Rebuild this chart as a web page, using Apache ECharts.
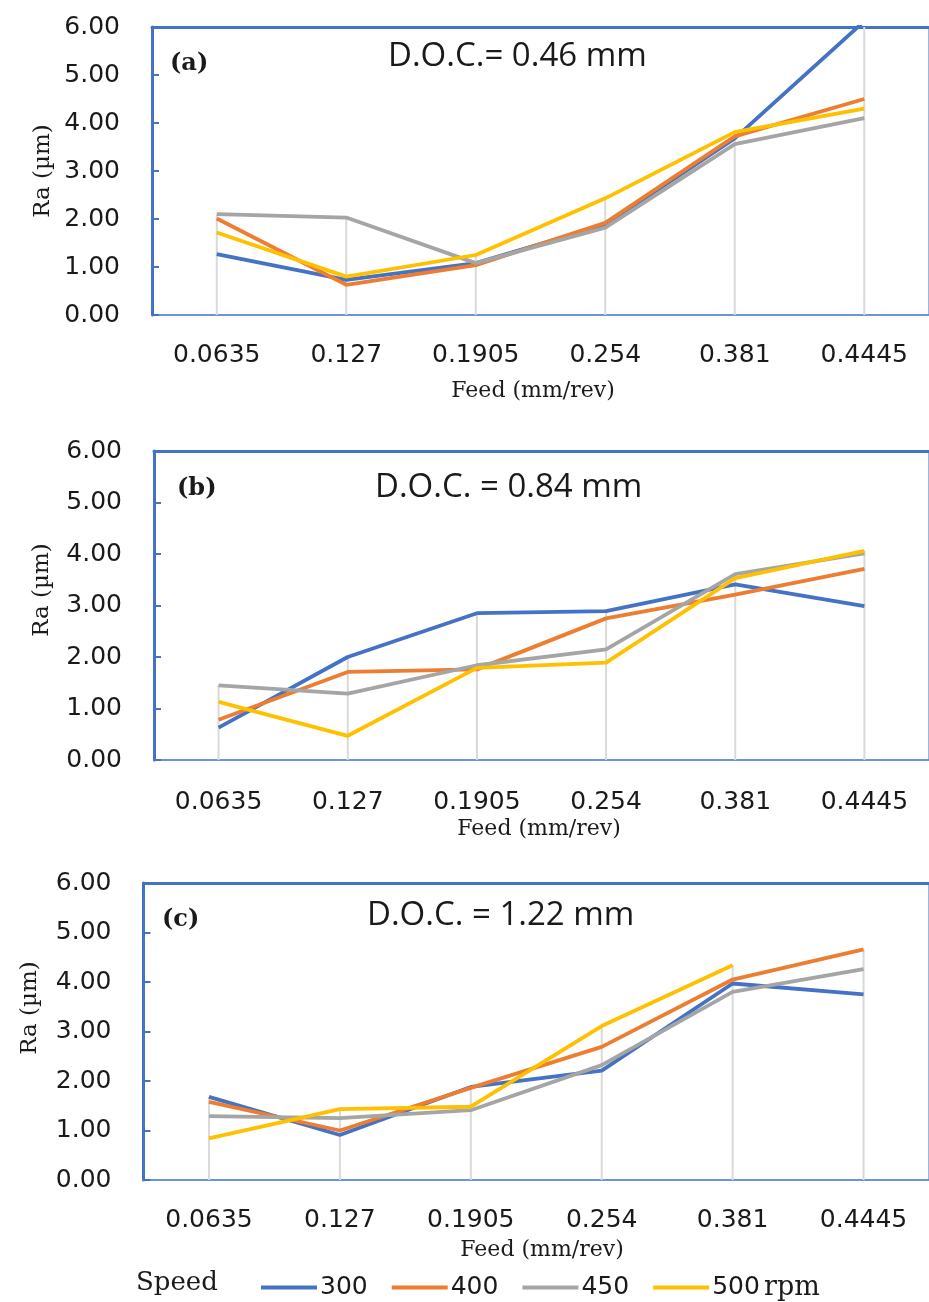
<!DOCTYPE html>
<html>
<head>
<meta charset="utf-8">
<script src="https://cdn.jsdelivr.net/npm/echarts@6/dist/echarts.min.js"></script>
<style>
  html, body { margin:0; padding:0; background:#fff; }
  #chart { width:929px; height:1302px; }
</style>
</head>
<body>
<div id="chart"></div>
<script>
// feed values on the category axis
let feeds = ['0.0635', '0.127', '0.1905', '0.254', '0.381', '0.4445'];
let yTicks = [0, 1, 2, 3, 4, 5, 6];
let speeds = ['300', '400', '450', '500'];

// (a) D.O.C. = 0.46 mm
let a300 = [1.27, 0.73, 1.08, 1.88, 3.68, 6.12];
let a400 = [2.01, 0.63, 1.04, 1.92, 3.72, 4.50];
let a450 = [2.10, 2.03, 1.08, 1.82, 3.56, 4.10];
let a500 = [1.72, 0.80, 1.25, 2.43, 3.81, 4.30];

// (b) D.O.C. = 0.84 mm
let b300 = [0.63, 2.00, 2.85, 2.89, 3.41, 2.99];
let b400 = [0.78, 1.71, 1.76, 2.75, 3.21, 3.71];
let b450 = [1.45, 1.29, 1.84, 2.15, 3.61, 4.01];
let b500 = [1.13, 0.47, 1.79, 1.89, 3.53, 4.06];

// (c) D.O.C. = 1.22 mm
let c300 = [1.68, 0.91, 1.88, 2.21, 3.97, 3.75];
let c400 = [1.58, 1.00, 1.86, 2.69, 4.05, 4.66];
let c450 = [1.29, 1.25, 1.41, 2.32, 3.80, 4.26];
let c500 = [0.84, 1.43, 1.48, 3.11, 4.34, null];

let colors = ['#4472c4', '#ed7d31', '#a5a5a5', '#ffc000'];
let blue = '#4472c4';
let tickFont = 'DejaVu Sans';
let serif = 'DejaVu Serif';
let ink = '#1a1a1a';

let panels = [
    { data:[a300, a400, a450, a500], grid:{ left:152, top:27, width:777, height:288 }, labelMargin:28,
      tag:'(a)', tagPos:[170, 64], doc:'D.O.C.= 0.46 mm', docPos:[388, 57], yName:[43, 171], xName:[533, 391] },
    { data:[b300, b400, b450, b500], grid:{ left:154, top:451, width:781, height:309 }, labelMargin:30,
      tag:'(b)', tagPos:[177, 489], doc:'D.O.C. = 0.84 mm', docPos:[375, 488], yName:[42, 590], xName:[539, 829] },
    { data:[c300, c400, c450, c500], grid:{ left:143.5, top:883, width:795, height:297 }, labelMargin:28,
      tag:'(c)', tagPos:[162, 920], doc:'D.O.C. = 1.22 mm', docPos:[367, 916], yName:[30, 1008], xName:[542, 1250] }
];

// top of the drop line at each feed = highest of the four speeds
function dropTops(sets){
    return feeds.map((f, i)=>{
        let vals = sets.map(s=>s[i]).filter(v=>v !== null);
        return Math.max.apply(null, vals);
    });
}

function txt(text, size, family, extra){
    return Object.assign({ text, fontSize:size, fontFamily:family, fill:ink }, extra || {});
}

let grids = [], xAxes = [], yAxes = [], series = [], graphics = [];

panels.forEach((p, k)=>{
    grids.push(Object.assign({ show:true, borderColor:'#5a86d0', borderWidth:1.2 }, p.grid));
    xAxes.push({
        type:'category', gridIndex:k, data:feeds,
        axisLine:{ lineStyle:{ color:'#5a86d0', width:1.5 } },
        axisTick:{ show:false },
        axisLabel:{ color:ink, fontFamily:tickFont, fontSize:25, margin:p.labelMargin },
        splitLine:{ show:false }
    });
    // top border drawn as a thick axis line
    xAxes.push({
        type:'category', gridIndex:k, data:feeds, position:'top',
        axisLine:{ lineStyle:{ color:blue, width:3 } },
        axisTick:{ show:false }, axisLabel:{ show:false }
    });
    yAxes.push({
        type:'value', gridIndex:k, min:yTicks[0], max:yTicks[yTicks.length-1], interval:1,
        axisLine:{ show:true, lineStyle:{ color:blue, width:3 } },
        axisTick:{ show:true, inside:true, length:7, lineStyle:{ color:blue, width:2 } },
        axisLabel:{ color:ink, fontFamily:tickFont, fontSize:25, margin:32, formatter:v=>v.toFixed(2) },
        splitLine:{ show:false }
    });
    series.push({
        type:'bar', name:'drop', xAxisIndex:k*2, yAxisIndex:k, barWidth:2, z:1,
        itemStyle:{ color:'#d9d9d9' }, silent:true,
        data:dropTops(p.data)
    });
    p.data.forEach((d, j)=>{
        series.push({
            type:'line', name:speeds[j], xAxisIndex:k*2, yAxisIndex:k, data:d,
            color:colors[j], showSymbol:false, symbol:'none', z:3+j,
            lineStyle:{ width:3.8, color:colors[j] }
        });
    });
    graphics.push(
        { type:'text', x:p.tagPos[0], y:p.tagPos[1],
          style:txt(p.tag, 24, serif, { fontWeight:'bold', verticalAlign:'middle' }) },
        { type:'text', x:p.docPos[0], y:p.docPos[1],
          style:txt(p.doc, 33, 'Open Sans', { verticalAlign:'middle' }) },
        { type:'text', x:p.yName[0], y:p.yName[1], rotation:Math.PI/2,
          style:txt('Ra (µm)', 23, serif, { align:'center', verticalAlign:'middle' }) },
        { type:'text', x:p.xName[0], y:p.xName[1],
          style:txt('Feed (mm/rev)', 22, serif, { align:'center', verticalAlign:'middle' }) }
    );
});

graphics.push(
    { type:'text', x:136, y:1283, style:txt('Speed', 26, serif, { verticalAlign:'middle' }) },
    { type:'text', x:764, y:1288, style:txt('rpm', 27, serif, { verticalAlign:'middle' }) }
);

let myChart = echarts.init(document.getElementById('chart'));
myChart.setOption({
    animation:false,
    grid:grids,
    xAxis:xAxes,
    yAxis:yAxes,
    legend:{
        data:speeds, left:256, top:1270, icon:'rect', itemWidth:56, itemHeight:4, itemGap:24,
        selectedMode:false,
        textStyle:{ color:ink, fontFamily:tickFont, fontSize:25, padding:[0,0,0,-2] }
    },
    graphic:graphics,
    series:series
});
</script>
</body>
</html>
